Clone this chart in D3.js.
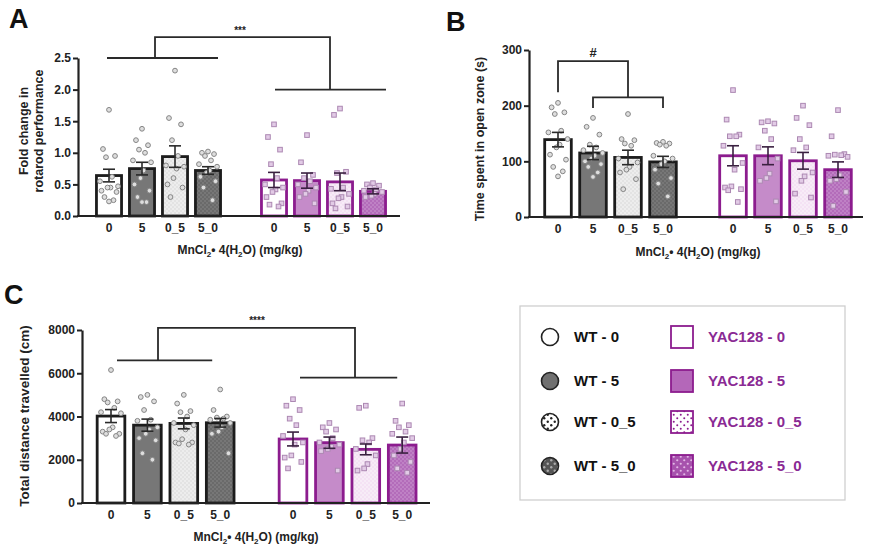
<!DOCTYPE html>
<html><head><meta charset="utf-8">
<script src="https://cdn.jsdelivr.net/npm/d3@7"></script>
<style>
body{margin:0;background:#fff;}
text{font-family:"Liberation Sans",Arial,sans-serif;font-weight:bold;}
</style></head>
<body>
<script>
// ---------- DATA ----------
const categories = ["0","5","0_5","5_0"];
const groups = ["WT","YAC128"];
const legendLabels = ["WT - 0","WT - 5","WT - 0_5","WT - 5_0","YAC128 - 0","YAC128 - 5","YAC128 - 0_5","YAC128 - 5_0"];

// Panel A: rotarod
const rotarodTicks = [0,0.5,1.0,1.5,2.0,2.5];
const rotarodMeanWT = [0.64,0.75,0.94,0.72];
const rotarodSemWT = [0.10,0.10,0.17,0.06];
const rotarodMeanYAC = [0.57,0.56,0.54,0.39];
const rotarodSemYAC = [0.12,0.12,0.14,0.04];
const rotarodPtsWT = [
 [1.68,1.06,0.95,0.93,0.62,0.55,0.47,0.45,0.45,0.40,0.38,0.30,0.25,0.23],
 [1.38,1.20,1.12,1.05,1.00,0.88,0.85,0.72,0.60,0.50,0.40,0.30,0.22,0.22],
 [2.30,1.55,1.45,1.20,0.95,0.80,0.78,0.75,0.60,0.50,0.45,0.30],
 [1.02,1.00,0.98,0.95,0.88,0.82,0.78,0.72,0.68,0.62,0.55,0.45,0.25]
];
const rotarodPtsYAC = [
 [1.45,1.25,1.05,0.82,0.60,0.50,0.45,0.42,0.38,0.30,0.20,0.18,0.15],
 [1.28,0.85,0.65,0.60,0.55,0.50,0.45,0.40,0.35,0.30,0.20],
 [1.70,1.60,0.70,0.68,0.45,0.43,0.35,0.30,0.28,0.20,0.15,0.12],
 [0.52,0.50,0.48,0.45,0.42,0.40,0.38,0.35,0.32,0.30]
];

// Panel B: open zone time
const openTicks = [0,100,200,300];
const openMeanWT = [139,115,107,99];
const openSemWT = [13,12,13,10];
const openMeanYAC = [110,110,101,85];
const openSemYAC = [18,16,15,14];
const openPtsWT = [
 [205,197,188,185,155,152,140,130,125,112,103,90,82,73],
 [178,162,148,130,125,120,115,110,105,100,95,90,80,72],
 [185,140,138,132,128,105,98,90,85,80,68,50],
 [135,133,132,130,128,110,105,100,95,85,70,60,37]
];
const openPtsYAC = [
 [228,175,148,145,145,128,97,85,55,53,50,48,27],
 [172,170,168,155,140,125,105,78,70,65,28],
 [200,178,165,140,125,120,80,73,65,42,35],
 [192,145,113,112,111,110,108,75,68,65,45,20]
];

// Panel C: total distance
const distTicks = [0,2000,4000,6000,8000];
const distMeanWT = [4020,3600,3680,3710];
const distSemWT = [300,280,250,200];
const distMeanYAC = [2960,2790,2480,2680];
const distSemYAC = [320,260,250,370];
const distPtsWT = [
 [6150,4800,4700,4650,4400,4200,4150,3500,3400,3300,3200,3200,3100],
 [5000,4900,4700,4300,3850,3800,3500,3400,3200,3000,2900,2300,2000],
 [5000,4600,4250,4200,4000,3700,3600,3400,2950,2800,2800,2750,2700],
 [5250,4300,4000,3950,3900,3850,3700,3500,3300,3200,2300]
];
const distPtsYAC = [
 [4800,4500,4300,3900,3600,3100,2800,2700,2200,2100,1900,1600],
 [3700,3500,3400,3300,3000,2800,2700,2600,2500,2400,1500],
 [4500,4400,3000,2900,2800,2500,2200,1800,1600,1500],
 [4600,3800,3600,3500,3300,3200,3000,2800,2500,2200,1900,1600,1400]
];

// ---------- STYLE ----------
const WT_STROKE = "#1c1c1c";
const YAC_STROKE = "#8c1c8e";
const wtFill = ["#ffffff","#777777","url(#wtDotsLight)","url(#wtDotsDark)"];
const yacFill = ["#ffffff","#c58bc9","url(#yacDotsLight)","url(#yacDotsDark)"];
const legWtFill = ["#ffffff","#707070","url(#legWtDots)","url(#legWtDotsDark)"];
const legYacFill = ["#ffffff","#b467b9","url(#legYacDots)","url(#legYacDotsDark)"];

const svg = d3.select("body").append("svg").attr("width",869).attr("height",552);
const defs = svg.append("defs");
function dotPattern(id,bg,dot,size,r){
  const p = defs.append("pattern").attr("id",id).attr("patternUnits","userSpaceOnUse")
    .attr("width",size).attr("height",size);
  p.append("rect").attr("width",size).attr("height",size).attr("fill",bg);
  p.append("circle").attr("cx",size*0.25).attr("cy",size*0.25).attr("r",r).attr("fill",dot);
  p.append("circle").attr("cx",size*0.75).attr("cy",size*0.75).attr("r",r).attr("fill",dot);
}
dotPattern("wtDotsLight","#e3e3e3","#ffffff",4,0.7);
dotPattern("wtDotsDark","#6a6a6a","#8f8f8f",4,0.7);
dotPattern("yacDotsLight","#f4e2f4","#ffffff",4,0.7);
dotPattern("yacDotsDark","#b36cba","#d6a6da",4,0.7);
dotPattern("legWtDots","#ffffff","#222",7,1.2);
dotPattern("legWtDotsDark","#555555","#aaaaaa",7,1.2);
dotPattern("legYacDots","#ffffff","#8c1c8e",7,1.0);
dotPattern("legYacDotsDark","#a752ad","#e3b8e6",7,1.1);

const slots = ["WT-0","WT-5","WT-0_5","WT-5_0","gap","YAC-0","YAC-5","YAC-0_5","YAC-5_0"];
const jitter = [0,-1,1,-0.5,0.5,-1.5,1.5,0.25,-0.25,-1.25,1.25,-0.75,0.75,0];

function drawPanel(c){
  const g = svg.append("g");
  const x = d3.scaleBand().domain(slots).range(c.xr).padding(0);
  const y = d3.scaleLinear().domain(c.yd).range(c.yr);
  const bw = x.bandwidth()*0.76;
  const cx = k => x(k) + x.bandwidth()/2;

  // y axis
  const ya = g.append("g").attr("transform",`translate(${c.axisX},0)`)
    .call(d3.axisLeft(y).tickValues(c.ticks).tickFormat(c.fmt).tickSize(5).tickSizeOuter(0).tickPadding(2));
  ya.select(".domain").attr("stroke","#222").attr("stroke-width",2.2);
  ya.selectAll(".tick line").attr("stroke","#222").attr("stroke-width",2);
  ya.selectAll(".tick text").attr("fill","#222").style("font-size","12px").style("font-family","Liberation Sans, Arial").style("font-weight","bold");

  const series = [
    {pre:"WT-",mean:c.meanWT,sem:c.semWT,pts:c.ptsWT,fill:wtFill,stroke:WT_STROKE,shape:"c"},
    {pre:"YAC-",mean:c.meanYAC,sem:c.semYAC,pts:c.ptsYAC,fill:yacFill,stroke:YAC_STROKE,shape:"s"}
  ];
  // bars
  series.forEach(s=>{
    categories.forEach((cat,i)=>{
      const k = s.pre+cat;
      g.append("rect").attr("x",cx(k)-bw/2).attr("width",bw)
        .attr("y",y(s.mean[i])).attr("height",y(0)-y(s.mean[i]))
        .attr("fill",s.fill[i]).attr("stroke",s.stroke).attr("stroke-width",2.8);
    });
  });
  // points
  series.forEach(s=>{
    categories.forEach((cat,i)=>{
      const k = s.pre+cat;
      s.pts[i].forEach((v,j)=>{
        const px = cx(k) + jitter[j%jitter.length]*bw*0.24;
        if(s.shape==="c"){
          g.append("circle").attr("cx",px).attr("cy",y(v)).attr("r",2.4)
            .attr("fill","#dedede").attr("stroke","#858585").attr("stroke-width",1);
        } else {
          g.append("rect").attr("x",px-2.3).attr("y",y(v)-2.3).attr("width",4.6).attr("height",4.6)
            .attr("fill","#e2cbe6").attr("stroke","#ac88b2").attr("stroke-width",1);
        }
      });
    });
  });
  // error bars
  series.forEach(s=>{
    categories.forEach((cat,i)=>{
      const k = s.pre+cat, xc = cx(k);
      const col = s.shape==="c" ? "#2a2a2a" : "#3a2040";
      const top = y(s.mean[i]+s.sem[i]), bot = y(s.mean[i]-s.sem[i]);
      g.append("line").attr("x1",xc).attr("x2",xc).attr("y1",top).attr("y2",bot).attr("stroke",col).attr("stroke-width",1.6);
      g.append("line").attr("x1",xc-6).attr("x2",xc+6).attr("y1",top).attr("y2",top).attr("stroke",col).attr("stroke-width",1.6);
      g.append("line").attr("x1",xc-6).attr("x2",xc+6).attr("y1",bot).attr("y2",bot).attr("stroke",col).attr("stroke-width",1.6);
    });
  });
  // x axis line
  g.append("line").attr("x1",c.axisX-1).attr("x2",c.xEnd).attr("y1",y(0)).attr("y2",y(0))
    .attr("stroke","#222").attr("stroke-width",2.2);
  // x tick labels
  slots.forEach(k=>{
    if(k==="gap") return;
    g.append("text").attr("x",cx(k)).attr("y",y(0)+16).attr("text-anchor","middle")
      .style("font-size","12px").attr("fill","#222").text(k.split("-")[1]);
  });
  // x title
  const t = g.append("text").attr("x",c.xTitleX).attr("y",c.xTitleY).attr("text-anchor","middle")
    .style("font-size","12px").attr("fill","#222");
  t.append("tspan").text("MnCl");
  t.append("tspan").attr("dy",3).style("font-size","8px").text("2");
  t.append("tspan").attr("dy",-3).text("• 4(H");
  t.append("tspan").attr("dy",3).style("font-size","8px").text("2");
  t.append("tspan").attr("dy",-3).text("O) (mg/kg)");
  // y title
  c.yTitle.forEach((line,i)=>{
    g.append("text").attr("transform",`translate(${c.yTitleX[i]},${c.yTitleY}) rotate(-90)`)
      .attr("text-anchor","middle").style("font-size",c.yTitleSize).attr("fill","#222").text(line);
  });
  // panel letter
  g.append("text").attr("x",c.letterX).attr("y",c.letterY).style("font-size","27px").attr("fill","#111").text(c.letter);
  return {x,y,cx,g};
}

function path(g,pts){
  g.append("path").attr("d",d3.line()(pts)).attr("fill","none").attr("stroke","#2a2a2a").attr("stroke-width",1.8);
}

// Panel A
const A = drawPanel({xr:[92.5,389.5],yd:[0,2.5],yr:[216,58],axisX:78,xEnd:400,ticks:rotarodTicks,fmt:d3.format(".1f"),
  meanWT:rotarodMeanWT,semWT:rotarodSemWT,meanYAC:rotarodMeanYAC,semYAC:rotarodSemYAC,ptsWT:rotarodPtsWT,ptsYAC:rotarodPtsYAC,
  xTitleX:240,xTitleY:254,yTitle:["Fold change in","rotarod performance"],yTitleX:[28,43],yTitleY:131,yTitleSize:"12.5px",letter:"A",letterX:9,letterY:28});
(()=>{const {cx,y,g}=A;
  path(g,[[cx("WT-0")-2,y(2.5)],[cx("WT-5_0")+10,y(2.5)]]);
  path(g,[[155,y(2.5)],[155,y(2.83)],[330,y(2.83)],[330,y(2.0)]]);
  path(g,[[cx("YAC-0")+1,y(2.0)],[cx("YAC-5_0")+13,y(2.0)]]);
  g.append("text").attr("x",240).attr("y",y(2.83)-3).attr("text-anchor","middle").style("font-size","10px").attr("fill","#222").text("***");
})();

// Panel B
const B = drawPanel({xr:[540.5,855.5],yd:[0,300],yr:[217,50],axisX:529,xEnd:863,ticks:openTicks,fmt:d3.format("d"),
  meanWT:openMeanWT,semWT:openSemWT,meanYAC:openMeanYAC,semYAC:openSemYAC,ptsWT:openPtsWT,ptsYAC:openPtsYAC,
  xTitleX:698,xTitleY:256,yTitle:["Time spent in open zone (s)"],yTitleX:[484],yTitleY:139,yTitleSize:"12.5px",letter:"B",letterX:446,letterY:31});
(()=>{const {cx,y,g}=B;
  path(g,[[cx("WT-0"),y(224)],[cx("WT-0"),y(280)],[cx("WT-0_5"),y(280)],[cx("WT-0_5"),y(215)]]);
  path(g,[[cx("WT-5"),y(196)],[cx("WT-5"),y(215)],[cx("WT-5_0"),y(215)],[cx("WT-5_0"),y(196)]]);
  g.append("text").attr("x",(cx("WT-0")+cx("WT-0_5"))/2).attr("y",y(280)-4).attr("text-anchor","middle").style("font-size","13px").attr("fill","#222").text("#");
})();

// Panel C
const C = drawPanel({xr:[92.8,420.4],yd:[0,8000],yr:[503,330],axisX:82,xEnd:430,ticks:distTicks,fmt:d3.format("d"),
  meanWT:distMeanWT,semWT:distSemWT,meanYAC:distMeanYAC,semYAC:distSemYAC,ptsWT:distPtsWT,ptsYAC:distPtsYAC,
  xTitleX:256,xTitleY:541,yTitle:["Total distance travelled (cm)"],yTitleX:[29],yTitleY:416,yTitleSize:"13.5px",letter:"C",letterX:4,letterY:304});
(()=>{const {cx,y,g}=C;
  path(g,[[cx("WT-0")+6,y(6600)],[cx("WT-5_0")-8,y(6600)]]);
  path(g,[[158,y(6600)],[158,y(8100)],[355,y(8100)],[355,y(5800)]]);
  path(g,[[cx("YAC-0")+7,y(5800)],[cx("YAC-5_0")-5,y(5800)]]);
  g.append("text").attr("x",257).attr("y",y(8100)-4).attr("text-anchor","middle").style("font-size","10px").attr("fill","#222").text("****");
})();

// Legend
const lg = svg.append("g");
lg.append("rect").attr("x",520).attr("y",306).attr("width",325).attr("height",194)
  .attr("fill","#fff").attr("stroke","#cfcfcf").attr("stroke-width",1.3);
const rowY = [337,381,422,466];
categories.forEach((cat,i)=>{
  lg.append("circle").attr("cx",550).attr("cy",rowY[i]).attr("r",8.5)
    .attr("fill",legWtFill[i]).attr("stroke","#222").attr("stroke-width",1.6);
  lg.append("text").attr("x",574).attr("y",rowY[i]+5).style("font-size","15px").attr("fill","#111").text(legendLabels[i]);
  lg.append("rect").attr("x",671).attr("y",rowY[i]-11).attr("width",22).attr("height",22)
    .attr("fill",legYacFill[i]).attr("stroke",YAC_STROKE).attr("stroke-width",1.8);
  lg.append("text").attr("x",708).attr("y",rowY[i]+5).style("font-size","15px").attr("fill","#8a2a94").text(legendLabels[i+4]);
});
</script>
</body></html>
